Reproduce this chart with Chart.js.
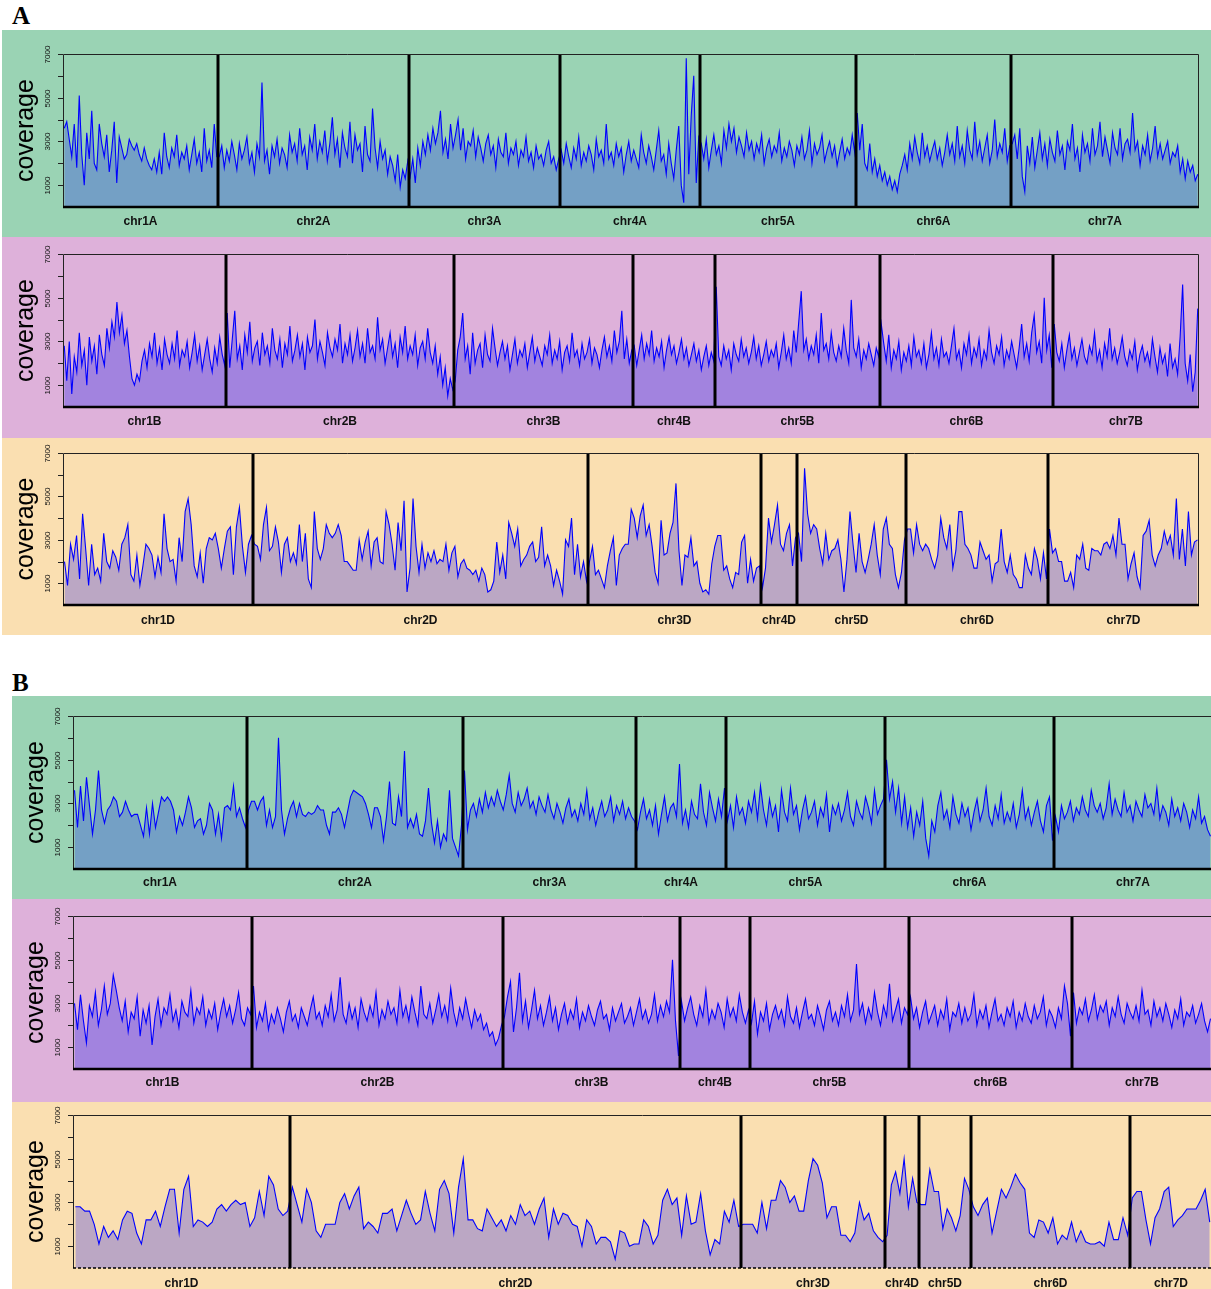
<!DOCTYPE html>
<html>
<head>
<meta charset="utf-8">
<script src="https://cdn.jsdelivr.net/npm/chart.js@4.4.1/dist/chart.umd.min.js"></script>
<style>
  html, body { margin: 0; padding: 0; background: #fff; overflow: hidden; }
  body { width: 1211px; height: 1289px; position: relative; }
  .tag { position: absolute; font: bold 25px "Liberation Serif", "Times New Roman", serif; line-height: 25px; color: #000; }
  .panel { position: absolute; overflow: hidden; }
  .panel canvas { position: absolute; left: 0; top: 0; }
</style>
</head>
<body>
<div class="tag" style="left:12px;top:3px">A</div>
<div class="panel" style="left:2px;top:30px;width:1209px;height:207px;background:#9AD3B4"><canvas id="a1" width="1209" height="207"></canvas></div>
<div class="panel" style="left:2px;top:237px;width:1209px;height:201px;background:#DEB1DA"><canvas id="a2" width="1209" height="201"></canvas></div>
<div class="panel" style="left:2px;top:438px;width:1209px;height:197px;background:#FADFB1"><canvas id="a3" width="1209" height="197"></canvas></div>
<div class="tag" style="left:12px;top:670px">B</div>
<div class="panel" style="left:12px;top:696px;width:1210px;height:203px;background:#9AD3B4"><canvas id="b1" width="1210" height="203"></canvas></div>
<div class="panel" style="left:12px;top:899px;width:1210px;height:203px;background:#DEB1DA"><canvas id="b2" width="1210" height="203"></canvas></div>
<div class="panel" style="left:12px;top:1102px;width:1210px;height:187px;background:#FADFB1"><canvas id="b3" width="1210" height="187"></canvas></div>

<script>
// chromosome names
const chrA = ["chr1A", "chr2A", "chr3A", "chr4A", "chr5A", "chr6A", "chr7A"];
const chrB = ["chr1B", "chr2B", "chr3B", "chr4B", "chr5B", "chr6B", "chr7B"];
const chrD = ["chr1D", "chr2D", "chr3D", "chr4D", "chr5D", "chr6D", "chr7D"];

// y axis ticks
const yTicks = [1000, 2000, 3000, 4000, 5000, 6000, 7000];
const yLabels = [1000, 3000, 5000, 7000];

// relative chromosome lengths (bins) for each panel
const lenA1 = [155, 191, 151, 140, 156, 155, 188];
const lenA2 = [163, 228, 179, 82, 165, 173, 146];
const lenA3 = [190, 335, 173, 36, 109, 142, 151];
const lenB1 = [174, 216, 173, 90, 159, 169, 158];
const lenB2 = [179, 251, 177, 70, 159, 163, 140];
const lenB3 = [217, 451, 144, 34, 52, 159, 82];

// coverage per bin, one list per chromosome
// A, A genome
const covA1 = [
  [3600,3900,3100,2300,3800,1800,5100,2400,1000,3400,
   2200,4400,2000,1700,3800,2900,2300,3300,1600,2600,
   3900,1100,3200,2700,2200,2400,3100,2800,2600,2900,
   2400,2100,2700,2200,1900,1700,2200,1600,2500,1500,
   3400,2300,1800,2700,2300,3300,1900,2500,2200,2800,
   1700,2400,3100,2000,2500,1600,3600,2100,2600,1800,
   3800,2300],
  [2300,2800,1800,2600,2100,3000,2400,1700,2900,2200,
   2600,3200,2000,2500,1600,2900,2300,5700,2100,2600,
   1500,2800,2300,3100,2000,2700,2400,1800,3300,2500,
   2900,2100,3600,2400,2800,1700,3200,2600,3800,2200,
   3000,2500,3500,2100,2900,4100,2400,3100,1800,3400,
   2700,2300,3900,2000,3300,2600,2900,1600,3700,2400,
   2100,4500,2700,1800,3000,2200,2600,1500,2300,1900,
   1200,2400,900,1700,1300,2100],
  [1400,2200,1100,2700,1900,3000,2400,3300,2600,3600,
   2900,3400,4400,2500,3100,2200,3800,2700,3300,4000,
   2600,3600,2200,3000,2800,3500,2300,3200,2700,2100,
   2900,3300,2400,2800,1800,3100,2500,2300,3400,2000,
   2700,2400,3000,1900,2600,2300,3200,2100,2500,1800,
   2800,2200,2400,1900,2600,3000,2000,2300,1700,2200],
  [2600,2000,2900,2300,1800,2700,2200,3200,1900,2500,
   2100,2800,2400,1700,3100,2300,2600,2000,3800,2200,
   2500,1900,2900,2300,2700,1600,2400,3000,2100,2600,
   2200,1800,3300,2500,2000,2800,2300,1700,2600,3500,
   2100,2400,1500,2900,2000,1300,2600,3700,1000,200,
   6800,1500,4200,6000,1100,3200],
  [2900,2200,3100,1800,2600,3300,2400,2800,2000,3500,
   2700,3800,3000,3600,2500,3200,2800,2300,3400,2600,
   3000,2200,2900,2500,3300,2000,2700,3100,2300,2800,
   2500,3400,2100,2700,2300,3000,2600,1900,2800,2400,
   3200,2200,2600,3500,2000,2900,2400,2700,3300,2100,
   2600,3000,2300,2800,1900,2500,3100,2200,2700,2400,
   3300,2500],
  [4300,2600,3800,2000,1700,2900,1600,2200,1400,1900,
   1200,1600,1000,1400,800,1200,700,1500,1900,2400,
   1700,2900,2200,3200,2500,2000,3400,2300,2800,2100,
   2600,3000,2200,2700,1900,2500,3300,2400,2900,2100,
   3700,2300,2800,2000,3500,2600,2200,3900,2400,3000,
   2100,2700,3300,2000,2600,4000,2300,2900,2500,3600,
   2100,2800],
  [2900,3300,2200,3600,1400,700,2800,2000,3200,1800,
   2600,3400,2200,2900,1900,3100,2500,2100,3500,2400,
   2800,1700,3000,2600,3800,2200,2700,1600,3300,2500,
   2900,2100,3600,2400,2800,3900,2300,3200,2600,2000,
   3400,2700,2400,3600,2200,2900,3100,2500,4300,2600,
   3000,1900,2800,2400,3300,2100,2700,3700,2300,2900,
   2200,2600,3000,2000,2500,2300,2800,1600,2200,1300,
   2100,1600,1900,1200,1500]
];

// A, B genome
const covA2 = [
  [2800,1200,3000,600,2300,1600,3400,1900,2600,1000,
   3200,2100,2800,1500,3300,2400,1900,3600,2700,3900,
   3200,4800,3400,4200,2900,3500,2300,1300,1000,1500,
   1200,2100,2600,1800,2900,2300,3400,2000,2700,1700,
   3100,2400,2000,2900,2200,3500,1900,2600,2300,3000,
   1800,2500,3300,2100,2800,1700,2400,3100,2200,1600,
   2700,2000,3200,2400,1900],
  [4300,1800,3100,4400,2200,2800,1700,3300,2500,3900,
   2100,2700,3000,1900,3400,2400,2800,2000,3600,2600,
   2200,3100,1800,2900,2400,3700,2100,2600,3300,2300,
   2900,1700,3200,2500,2800,4000,2200,3000,2500,1900,
   3400,2700,2300,3100,2600,3800,2000,2900,2400,3300,
   2100,2700,3500,2300,2900,2000,3600,2500,2800,2200,
   4100,2600,3100,2000,2700,3400,2300,2900,1800,3200,
   2500,3700,2200,2800,2400,3300,1900,2700,3000,2200,
   3600,2500,2000,2800,1500,2300,1000,1800,500,1300,
   800],
  [1200,2600,3200,4300,2200,2800,1500,3400,2000,2600,
   2900,1800,3300,2400,2100,3600,2700,1900,2500,3000,
   2200,2800,1700,2400,3100,2000,2600,2300,2900,1800,
   2500,3200,2100,2700,2300,1900,2800,2400,3300,2000,
   2600,2200,3000,1700,2500,2800,2100,3400,2300,2600,
   1900,2900,2200,2500,3100,2000,2700,2400,1800,2600,
   3200,2300,2800,2100,3500,2500,3000,4400,2200,3100,
   2000,2600],
  [2800,1900,2600,3300,2200,2900,2400,3500,2100,2700,
   2300,3000,1800,2600,3200,2400,2800,2000,2500,3100,
   2200,2700,1900,2400,2900,2100,2600,1700,2300,2800,
   1900,2500,2100],
  [5500,2300,1900,2800,2200,2600,1700,2900,2400,2100,
   3100,2300,2700,2000,2500,3200,2200,2800,1900,2400,
   3000,2100,2600,2300,2900,1800,2500,3300,2200,2700,
   2000,3500,2500,3900,5300,2600,3100,2200,2800,2400,
   3300,2000,4300,2600,2900,2200,3400,2500,2100,2800,
   2300,3600,2600,2000,4900,2700,2300,3100,1800,2600,
   2200,2900,2400,1900,2700,2300],
  [3800,2900,2100,3300,1800,2600,2200,3000,1700,2500,
   2100,2800,1900,3200,2300,2600,2000,2900,1800,2400,
   3400,2200,2700,1900,3100,2300,2500,2000,2800,3600,
   2200,2600,1800,2900,2400,3300,2000,2700,2300,3100,
   1900,2600,2200,3500,2500,2000,2800,2400,3200,1900,
   2600,2200,3000,2400,1800,2700,3800,2300,2900,2100,
   3400,4200,2500,3000,2000,5000,2600,3300,1800],
  [3800,2500,2100,2900,1800,2600,3300,2200,2700,1900,
   2500,3100,2300,2000,2800,2400,3400,2100,2600,1800,
   2900,2300,3600,2200,2700,2000,2500,3200,2300,1900,
   2600,2200,3000,1700,2400,2800,2100,2500,1900,3100,
   2300,1600,2700,2000,2400,1400,2900,1800,2200,1500,
   3200,5600,2000,1200,2400,700,1600,4500]
];

// A, D genome
const covA3 = [
  [2000,900,2800,2100,3200,1200,4200,2600,900,2800,
   1400,1700,1100,3300,2000,1700,2500,2200,1600,2800,
   3100,3700,1400,1100,2300,900,1800,2800,2600,2300,
   1300,2200,1500,4200,2600,2000,2100,1100,3100,2000,
   4300,4900,3700,1800,1300,2400,1000,2600,3100,3000,
   3300,2600,1700,2600,3400,3600,1400,3600,4500,2700,
   1500,2800,3200],
  [2800,2700,2100,3700,4500,2500,2700,3600,2900,1500,
   2800,3100,2000,2400,1900,3700,2000,3300,1200,800,
   4300,2600,2100,2600,3700,3300,3100,3300,3700,3200,
   2000,2000,1800,1600,1600,3000,2100,2900,3400,1800,
   2900,3100,2000,1900,4300,3700,2800,1600,3800,2500,
   4800,600,1700,4900,2700,1500,2800,1700,2400,2000,
   2500,1900,
   2100,2000,2800,1600,2400,2700,1300,1900,2100,1700,
   1600,1400,1600,1100,1700,1400,600,700,1100,2900,
   1500,2300,1200,3800,3300,2700,3500,1800,2100,2300,
   2700,2900,2000,2200,3600,1800,2300,1800,900,1600,
   1100,500,3000,2700,4000,1400,2800,1300,2000,1100],
  [2000,2700,1400,1600,1200,800,1800,2500,3100,900,
   2300,2600,2800,2800,4400,4000,3100,4100,4600,3200,
   3700,2700,1500,1000,3900,2300,2400,3300,3800,5600,
   2500,900,2300,2200,3100,1800,2000,1000,600,700,
   500,1900,2700,3200,3200,1600,1800,1200,800,1500,
   1400,2900,3200,1000,2100,1100,1700,1800],
  [800,1700,4000,2900,3700,4600,2800,2500,3300,3700,
   1800,3100],
  [3300,2000,6300,4200,3300,3700,3500,2600,1900,3300,
   2100,2500,2600,3000,2100,600,2100,4300,2800,1500,
   3300,2000,1500,2100,2800,3700,2300,1400,3500,4000,
   2800,2600,1400,800,1500,3000],
  [3500,3500,2400,3700,2800,2500,2800,2600,2100,1700,
   2300,4000,3100,2600,3700,1700,2500,4300,4300,2800,
   2600,2300,1700,1700,2900,2500,2100,2300,1100,1900,
   2000,3500,2000,1500,2300,1400,1200,800,800,2300,
   1700,1400,2600,2100,1200,2400,1200],
  [3500,2400,2600,2000,2000,1100,1100,1500,800,2300,
   2100,2800,1700,1600,2600,2500,2500,2300,2800,2900,
   2600,3200,2300,4000,2800,2800,1200,1900,2400,1300,
   800,3200,3400,3900,2300,1800,2300,2600,3400,2800,
   3200,2300,4900,2100,3500,1800,4300,2300,2900,3000]
];

// B, A genome
const covB1 = [
  [3600,1900,3800,2200,4200,2900,1600,2700,4500,2700,
   2100,2700,2900,3300,3100,2400,2600,3100,2700,2400,
   2500,2500,2000,1500,2800,1600,3000,1900,2600,3300,
   3100,3300,3100,2700,1700,2400,2000,2600,3300,2800,
   1900,2200,2300,1600,2000,3000,2700,1600,2500,1400,
   2800,2900,2700,3800,2400,2800,2300,1900],
  [2700,3100,3100,2700,3100,3300,2000,2700,1900,2400,
   6000,2700,1600,2300,2800,3100,2400,3000,2500,2400,
   2600,2500,2600,2900,2700,2700,2000,1600,2600,2600,
   2800,2500,1900,2600,3300,3600,3500,3400,3300,3000,
   2500,1900,2800,2800,2400,1300,2400,4000,2100,2000,
   3300,2400,5400,1900,2300,1900,2500,1600,1500,2200,
   3700,2100,1200,2200,1000,1600,1300,3600,1400,1000,
   600,2000],
  [4500,1800,2700,3000,2400,3200,2600,3500,2800,3300,
   2900,3600,3100,2700,3400,4300,3000,2600,3500,2900,
   3200,3700,2800,3100,2500,3300,2900,2600,3400,2700,
   2300,3000,2600,2100,2800,3200,2400,2700,2200,3000,
   2500,3600,2300,2800,2000,2600,3100,2400,2700,3300,
   2200,2900,2500,3100,2300,2800,2400,2200],
  [1800,2600,3200,2300,2700,2000,2900,1600,2500,3300,
   2200,2800,3000,2400,4800,2100,2700,1900,3100,2500,
   2300,3900,2600,2000,3500,2800,2200,3200,2400,3700],
  [2200,2900,1900,3300,2500,2800,2100,3100,2600,3500,
   2300,3800,2700,2000,3200,2400,2900,1700,3600,2600,
   2200,3700,2500,2900,1800,2700,3300,2300,2600,3100,
   2000,2800,2400,3400,1700,2900,2500,3000,2200,2700,
   3500,2400,2000,3100,2600,2300,3300,2800,2100,3600,
   2500,2900,3200],
  [5000,3200,4000,2600,3700,2100,3300,1900,2800,1500,
   2600,2000,3100,1400,600,2200,1700,2900,3500,2300,
   2700,1900,3300,2500,2100,3000,2400,2800,1800,2600,
   3200,2200,2700,3700,2400,2000,2900,2300,3400,2100,
   2600,2200,3000,1900,2500,3600,2300,2800,2000,2600,
   3100,2200,1700,2900,3300,1300],
  [2400,1700,2900,2300,2600,3100,2200,2800,2500,3300,
   2700,2400,3600,2900,2600,3000,2300,2800,3900,2500,
   3200,2700,2400,3500,2600,2900,2200,3100,2700,2400,
   3400,2800,3000,2500,3700,2300,2900,2600,2000,3200,
   2400,2800,2200,3000,2600,1900,2700,2300,3300,2100,
   2400,1800,1500]
];

// B, B genome
const covB2 = [
  [3000,1800,3400,2200,1200,2900,2400,3500,2000,2700,
   3800,2500,3000,4300,3600,2800,2200,3100,1700,2600,
   2300,3300,1500,2700,2100,2900,1100,2400,3200,2000,
   2800,2500,3400,2200,2700,1900,3100,2600,2400,3600,
   2100,2800,2500,3300,2000,2700,2300,3000,1800,2600,
   3200,2400,2900,2100,2700,3500,2300,2000,2800,2500],
  [3800,1900,2600,2200,3000,1800,2500,2100,2800,2300,
   1700,2600,3100,2200,2500,1900,2800,2400,2000,2700,
   3300,2300,2600,2000,2900,2400,3400,2200,2700,4200,
   2500,2100,3000,2300,2800,1900,3200,2600,2200,2900,
   2400,3500,2000,2700,2300,3100,2500,2800,2100,3600,
   2400,2900,2200,3300,2600,2000,3800,2500,2300,3000,
   2100,2700,3400,2400,2900,2200,3700,2600,2000,2800,
   2300,3200,2500,1900,2700,2200,2500,1800,2100,1500,
   1700,1100,1400,2000],
  [2400,3300,4000,1700,2800,4400,2200,3100,1900,2700,
   3600,2300,2900,2000,2600,3300,2200,2800,1800,2500,
   3000,2100,2700,2300,3200,1900,2600,2200,2900,2400,
   2000,2700,3100,2300,2500,1800,2800,2200,2600,3000,
   2100,2400,2800,2000,2600,3200,2300,2700,2100,2500,
   3400,2200,2900,2400,3100,2600,5000,2200,600],
  [3100,2200,2800,3300,2500,2000,2900,2400,3600,2100,
   2700,2300,3000,2600,1900,3200,2400,2800,2200,3400,
   2600,2100,2700],
  [2100,3100,1600,2600,2200,3000,1800,2500,2900,2300,
   2700,2000,3300,2400,2100,2800,1900,2600,3200,2300,
   2500,2000,2900,2400,1800,2700,3100,2200,2600,2000,
   2900,2400,3400,2200,2700,4800,2500,3000,2100,2800,
   2300,3500,2600,2000,2900,2400,3900,2200,2700,3200,
   2100,2800,2500],
  [3300,2300,2800,1900,2600,3100,2100,2500,2900,2000,
   2700,2300,3200,1800,2600,2400,3000,2100,2800,2200,
   2500,3400,2000,2700,2300,2900,1900,2600,3200,2200,
   2500,2000,2800,2400,3100,1900,2600,2200,3000,2400,
   2100,2900,2300,2600,3300,2000,2700,2400,1900,2800,
   2300,3800,3000,1500],
  [3500,2100,2800,2500,3200,2200,2700,3400,2300,2900,
   2600,3100,2000,2800,2400,3300,2500,2100,3000,2600,
   2300,2900,2200,3600,2500,2700,2000,3100,2400,2800,
   2200,3000,2500,1900,2700,2300,3200,2000,2600,2400,
   2900,2100,2500,3000,2200,1700,2300]
];

// B, D genome
const covB3 = [
  [2800,2800,2600,2600,2000,1100,1900,1400,1700,1300,
   2200,2600,2500,1600,1100,2200,2200,2600,1900,2800,
   3600,3600,1600,3600,4200,1900,2200,2100,1900,2100,
   2700,2900,2600,2900,3100,2900,3000,1900,2300,3500,
   2400,4200,3800,2700,2400,2600],
  [3700,2900,2100,3600,3000,1700,1400,2000,2000,2000,
   3000,3400,2700,3300,3700,1800,2100,1900,1600,2500,
   2500,2700,1700,2400,3100,2500,2000,2200,3500,2500,
   1700,3600,4000,3400,1600,3700,5000,2200,2200,1800,
   1700,2700,2300,1900,2200,1700,2400,2000,2900,2400,
   2600,2000,2700,3200,1400,2700,2000,2500,2400,2000,
   1900,1000,2200,1900,1100,1400,1400,1200,400,1700,
   1600,1000,1100,1100,2200,1900,1100,1500,3100,3600,
   2900,3200,1500,3300,2000,2100,3400,1700,600,1300,
   1100,2600,2100,3100,1900],
  [2000,2000,2000,1600,3000,1800,3100,3100,4000,3700,
   3000,3300,2600,2600,4000,5000,4700,3900,2300,2800,
   2800,1500,1500,1200,1600,3000,2200,2500,1700,1400,
   1200],
  [1500,3800,4400,3400,5000,2800,4100,3000],
  [2900,2900,4500,3500,3500,1800,2700,2300,1700,2400,
   4100,3600],
  [2800,2400,2900,3200,1600,2600,3600,3200,3700,4300,
   3900,3600,1600,1400,2200,2100,1600,2300,1100,1500,
   1300,2100,1200,1700,1200,1100,1100,1200,1000,2100,
   1300,1300,2300,1500],
  [3200,3500,3500,2200,1100,2300,2700,3500,3700,1900,
   2200,2400,2700,2700,2700,3100,3600,2100]
];

// spread each chromosome's bins over its length
function buildPoints(cov, lens) {
  const pts = [];
  let start = 0;
  cov.forEach((vals, j) => {
    const step = lens[j] / vals.length;
    vals.forEach((v, i) => pts.push({ x: start + (i + 0.5) * step, y: v }));
    start += lens[j];
  });
  return pts;
}

const framePlugin = {
  id: "frame",
  afterDatasetsDraw(chart, args, o) {
    const { ctx, chartArea: a, scales: { x, y } } = chart;
    ctx.save();
    // chromosome separators
    ctx.strokeStyle = "#000";
    ctx.lineWidth = 3;
    o.bounds.forEach(b => {
      const px = x.getPixelForValue(b);
      ctx.beginPath();
      ctx.moveTo(px, a.top);
      ctx.lineTo(px, a.bottom);
      ctx.stroke();
    });
    // box
    ctx.lineWidth = 1;
    ctx.strokeStyle = "#222";
    ctx.beginPath();
    ctx.moveTo(a.left + 0.5, a.bottom);
    ctx.lineTo(a.left + 0.5, a.top + 0.5);
    ctx.lineTo(a.right - 0.5, a.top + 0.5);
    ctx.lineTo(a.right - 0.5, a.bottom);
    ctx.stroke();
    // x axis line
    ctx.strokeStyle = "#000";
    if (o.dashed) {
      ctx.setLineDash([3, 2]);
      ctx.lineWidth = 1.6;
    } else {
      ctx.lineWidth = 2.6;
    }
    ctx.beginPath();
    ctx.moveTo(a.left, a.bottom);
    ctx.lineTo(a.right, a.bottom);
    ctx.stroke();
    ctx.setLineDash([]);
    // y ticks and labels
    ctx.lineWidth = 1;
    ctx.strokeStyle = "#222";
    ctx.fillStyle = "#111";
    ctx.font = '8px "Liberation Sans", Arial, sans-serif';
    ctx.textAlign = "center";
    ctx.textBaseline = "alphabetic";
    yTicks.forEach(v => {
      const py = Math.round(y.getPixelForValue(v)) + 0.5;
      ctx.beginPath();
      ctx.moveTo(a.left - 5, py);
      ctx.lineTo(a.left, py);
      ctx.stroke();
      if (yLabels.includes(v)) {
        ctx.save();
        ctx.translate(a.left - 13, py);
        ctx.rotate(-Math.PI / 2);
        ctx.fillText(String(v), 0, 0);
        ctx.restore();
      }
    });
    // axis title
    ctx.fillStyle = "#000";
    ctx.font = '25px "Liberation Sans", Arial, sans-serif';
    ctx.translate(a.left - 30, (a.top + a.bottom) / 2);
    ctx.rotate(-Math.PI / 2);
    ctx.fillText("coverage", 0, 0);
    ctx.restore();
  }
};

function drawPanel(id, cov, lens, names, fillColor, pad, labelPad, dashed) {
  const total = lens.reduce((s, l) => s + l, 0);
  const bounds = [];
  const centers = [];
  let s = 0;
  lens.forEach((l, i) => {
    centers.push(s + l / 2);
    s += l;
    if (i < lens.length - 1) bounds.push(s);
  });
  // the x axis takes the space below the plot, so the labels are not clipped
  const axisHeight = pad.bottom;

  new Chart(document.getElementById(id), {
    type: "line",
    data: {
      datasets: [{
        data: buildPoints(cov, lens),
        borderColor: "#0000ff",
        borderWidth: 1.1,
        backgroundColor: fillColor,
        fill: "origin",
        pointRadius: 0,
        tension: 0
      }]
    },
    options: {
      responsive: false,
      animation: false,
      events: [],
      layout: { padding: { left: pad.left, top: pad.top, right: pad.right, bottom: 0 }, autoPadding: false },
      plugins: {
        legend: { display: false },
        tooltip: { enabled: false },
        frame: { bounds, dashed }
      },
      scales: {
        x: {
          type: "linear",
          min: 0,
          max: total,
          afterBuildTicks: sc => { sc.ticks = centers.map(v => ({ value: v })); },
          afterFit: sc => { sc.height = axisHeight; },
          grid: { display: false, drawTicks: false },
          border: { display: false },
          ticks: {
            autoSkip: false,
            maxRotation: 0,
            minRotation: 0,
            padding: labelPad,
            color: "#111",
            font: { family: '"Liberation Sans", Arial, sans-serif', size: 12, weight: "bold" },
            callback: (v, i) => names[i]
          }
        },
        y: { display: false, min: 0, max: 7000 }
      }
    },
    plugins: [framePlugin]
  });
}

const greenFill = "#74A0C5";
const pinkFill = "#A283DF";
const orangeFill = "#BBA7C4";

drawPanel("a1", covA1, lenA1, chrA, greenFill, { left: 61, top: 24, right: 12, bottom: 30 }, 7, false);
drawPanel("a2", covA2, lenA2, chrB, pinkFill, { left: 61, top: 17, right: 12, bottom: 31 }, 7, false);
drawPanel("a3", covA3, lenA3, chrD, orangeFill, { left: 61, top: 15, right: 12, bottom: 30 }, 8, false);
drawPanel("b1", covB1, lenB1, chrA, greenFill, { left: 61, top: 20, right: 10, bottom: 30 }, 6, false);
drawPanel("b2", covB2, lenB2, chrB, pinkFill, { left: 61, top: 17, right: 10, bottom: 33 }, 6, false);
drawPanel("b3", covB3, lenB3, chrD, orangeFill, { left: 61, top: 13, right: 10, bottom: 21 }, 8, true);
</script>
</body>
</html>
